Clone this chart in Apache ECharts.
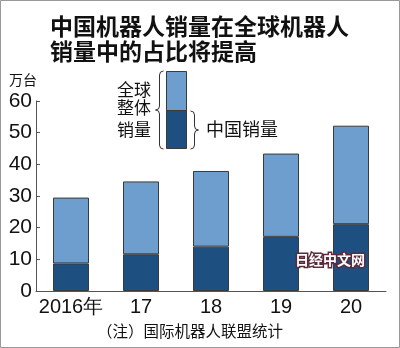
<!DOCTYPE html>
<html><head><meta charset="utf-8">
<script src="https://cdn.jsdelivr.net/npm/echarts@6/dist/echarts.min.js"></script>
<style>html,body{margin:0;padding:0;background:#fff}#c{width:400px;height:348px}</style>
</head><body><div id="c"></div>
<script>
const categories = ['2016年', '17', '18', '19', '20'];
const chinaSales = [8.7, 11.6, 14.0, 17.1, 21.1];
const globalTotal = [29.5, 34.6, 37.9, 43.4, 52.2];
const restOfWorld = globalTotal.map((t, i) => +(t - chinaSales[i]).toFixed(1));
const yTicks = [0, 10, 20, 30, 40, 50, 60];

const DARK = '#1d5080', LIGHT = '#6e9ecd', EDGE = '#3a3a3a';
const NUMFONT = '"Liberation Sans Narrow","Liberation Sans",sans-serif';
const CJK = '"Noto Sans CJK SC",sans-serif';

// brace: x = spine x, y0..y1, dir = -1 (points left) or +1 (points right)
function brace(x, y0, y1, dir) {
  const ym = (y0 + y1) / 2, r = 4, s = {fill: 'none', stroke: '#333', lineWidth: 1};
  const ex = x - dir * r, tx = x + dir * r;
  return [
    {type: 'bezierCurve', shape: {x1: ex, y1: y0, x2: x, y2: y0 + r, cpx1: x, cpy1: y0}, style: s},
    {type: 'line', shape: {x1: x, y1: y0 + r, x2: x, y2: ym - r}, style: s},
    {type: 'bezierCurve', shape: {x1: x, y1: ym - r, x2: tx, y2: ym, cpx1: x, cpy1: ym}, style: s},
    {type: 'bezierCurve', shape: {x1: tx, y1: ym, x2: x, y2: ym + r, cpx1: x, cpy1: ym}, style: s},
    {type: 'line', shape: {x1: x, y1: ym + r, x2: x, y2: y1 - r}, style: s},
    {type: 'bezierCurve', shape: {x1: x, y1: y1 - r, x2: ex, y2: y1, cpx1: x, cpy1: y1}, style: s}
  ];
}

const chart = echarts.init(document.getElementById('c'), null, {renderer: 'canvas'});
chart.setOption({
  animation: false,
  backgroundColor: '#fff',
  title: {
    text: '中国机器人销量在全球机器人\n销量中的占比将提高',
    left: 45, top: 9,
    textStyle: {fontFamily: CJK, fontSize: 23, fontWeight: 'bold', color: '#111', lineHeight: 25}
  },
  grid: {left: 36, right: 14, top: 101, bottom: 57},
  xAxis: {
    type: 'category', data: categories,
    axisLine: {lineStyle: {color: '#555', width: 1}},
    axisTick: {show: false},
    axisLabel: {interval: 0, fontFamily: NUMFONT, fontSize: 20, color: '#111', margin: 6}
  },
  yAxis: {
    type: 'value', min: yTicks[0], max: yTicks[yTicks.length - 1], interval: 10,
    splitLine: {show: false},
    axisLine: {show: true, lineStyle: {color: '#555', width: 1}},
    axisTick: {show: true, inside: true, length: 4, lineStyle: {color: '#555'}},
    axisLabel: {fontFamily: NUMFONT, fontSize: 21, color: '#111', margin: 4}
  },
  series: [
    {type: 'bar', stack: 's', data: chinaSales, barWidth: 36,
     itemStyle: {color: DARK, borderColor: EDGE, borderWidth: 1}},
    {type: 'bar', stack: 's', data: restOfWorld, barWidth: 36,
     itemStyle: {color: LIGHT, borderColor: EDGE, borderWidth: 1}}
  ],
  graphic: [
    {type: 'rect', shape: {x: 0.5, y: 0.5, width: 399, height: 347}, style: {fill: 'none', stroke: '#999', lineWidth: 1}},
    {type: 'text', x: 9, y: 80, style: {text: '万台', font: '14px ' + CJK, fill: '#111', verticalAlign: 'middle'}},
    {type: 'rect', shape: {x: 166.5, y: 71.5, width: 20, height: 39}, style: {fill: LIGHT, stroke: EDGE, lineWidth: 1}},
    {type: 'rect', shape: {x: 166.5, y: 110.5, width: 20, height: 38}, style: {fill: DARK, stroke: EDGE, lineWidth: 1}},
    ...brace(159.5, 71, 149, -1),
    ...brace(194.5, 111, 149, 1),
    {type: 'text', x: 151, y: 90, style: {text: '全球', font: '17px ' + CJK, fill: '#111', align: 'right', verticalAlign: 'middle'}},
    {type: 'text', x: 151, y: 108, style: {text: '整体', font: '17px ' + CJK, fill: '#111', align: 'right', verticalAlign: 'middle'}},
    {type: 'text', x: 151, y: 130, style: {text: '销量', font: '17px ' + CJK, fill: '#111', align: 'right', verticalAlign: 'middle'}},
    {type: 'text', x: 206, y: 129, style: {text: '中国销量', font: '18px ' + CJK, fill: '#111', align: 'left', verticalAlign: 'middle'}},
    {type: 'text', x: 190, y: 331, style: {text: '（注）国际机器人联盟统计', font: '15.5px ' + CJK, fill: '#111', align: 'center', verticalAlign: 'middle'}},
    {type: 'text', x: 330, y: 260, z: 100, style: {text: '日经中文网', font: 'bold 14px ' + CJK, fill: '#fff', stroke: '#5b2b3b', lineWidth: 3, align: 'center', verticalAlign: 'middle'}}
  ]
});
</script></body></html>
